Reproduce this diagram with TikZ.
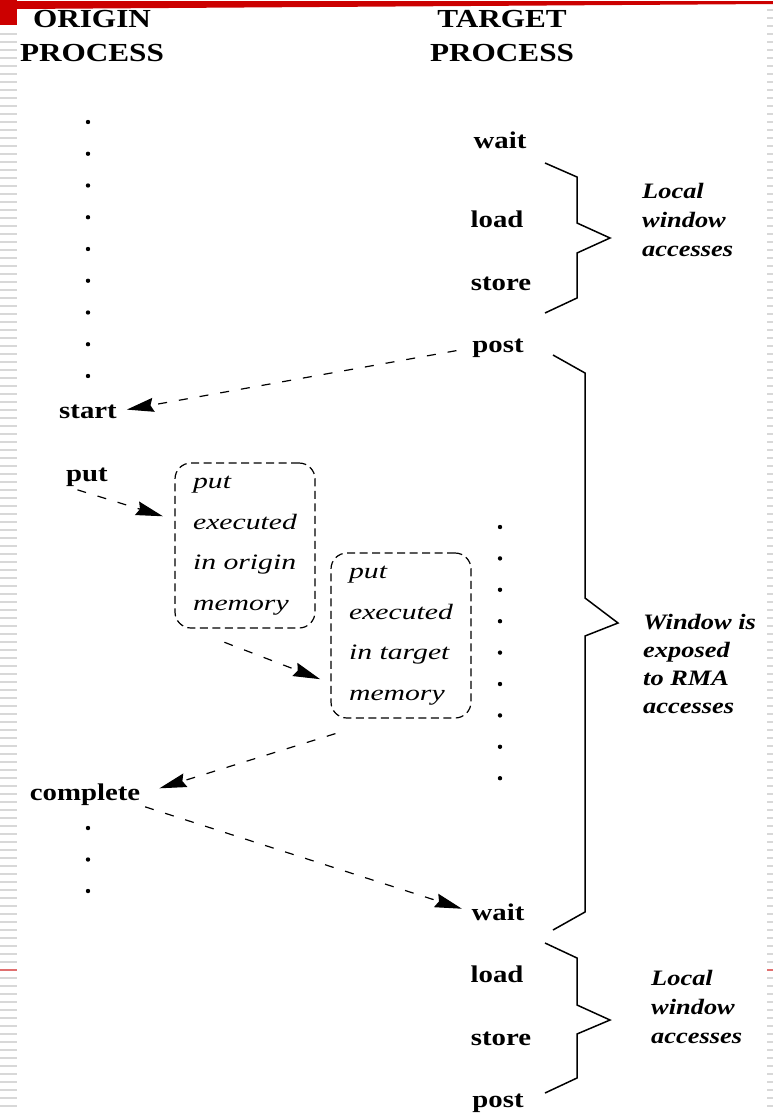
\documentclass[tikz,border=0pt]{standalone}
\usepackage{fontspec}
\setmainfont{Liberation Serif}
\newfontfamily\labelfont{Liberation Serif}[FakeStretch=1.2]
\newfontfamily\notefont{Liberation Serif}[FakeStretch=1.35]
\usetikzlibrary{arrows.meta}

\definecolor{slidered}{RGB}{204,0,0}
\definecolor{ruleline}{RGB}{216,216,216}
\definecolor{rulered}{RGB}{224,112,112}

\begin{document}
\begin{tikzpicture}[x=1pt,y=-1pt,
  lbl/.style={font=\labelfont\bfseries\fontsize{24}{28}\selectfont,inner sep=0pt,anchor=base},
  head/.style={font=\labelfont\bfseries\fontsize{26}{33.5}\selectfont,inner sep=0pt,align=center},
  note/.style={font=\labelfont\bfseries\itshape\fontsize{22}{29}\selectfont,inner sep=0pt,align=left,anchor=west},
  membox/.style={draw,dash pattern=on 8pt off 4.5pt,line width=1.2pt,rounded corners=16pt,
    minimum width=140pt,minimum height=165pt,inner sep=0pt,align=left,
    font=\notefont\itshape\fontsize{22}{40.5}\selectfont},
  sync/.style={dash pattern=on 9pt off 12pt,line width=1.2pt,-{Stealth[length=27pt,width=14pt,inset=3pt]}},
  brace/.style={line width=1.5pt,line join=miter}
]

\useasboundingbox (0,0) rectangle (773,1114);

\foreach \y in {34,42,...,1110}
  \fill[ruleline] (0,\y-1) rectangle (17,\y+1);
\foreach \y in {10,18,...,1110}
  \fill[ruleline] (767,\y-1) rectangle (773,\y+1);
\fill[rulered] (0,969) rectangle (17,971);
\fill[rulered] (767,969) rectangle (773,971);
\fill[slidered] (0,0) rectangle (17,25);
\fill[slidered] (17,1) -- (773,1) -- (773,4) -- (17,9) -- cycle;

\node[head] (orighead) at (92,36) {ORIGIN\\PROCESS};
\node[head] (targhead) at (502,36) {TARGET\\PROCESS};

\node[lbl] (wait1) at (500,148) {wait};
\node[lbl] (load1) at (497,227) {load};
\node[lbl] (store1) at (501,290) {store};
\node[lbl] (post1) at (498,352) {post};
\node[lbl] (wait2) at (498,920) {wait};
\node[lbl] (load2) at (497,982) {load};
\node[lbl] (store2) at (501,1045) {store};
\node[lbl] (post2) at (498,1107) {post};

\node[lbl] (start) at (88,418) {start};
\node[lbl] (put) at (87,481) {put};
\node[lbl] (complete) at (85,800) {complete};

\foreach \i in {0,...,8}
  \fill (88,122+31.75*\i) circle (2.2);
\foreach \i in {0,...,8}
  \fill (500,527+31.4*\i) circle (2.2);
\foreach \i in {0,1,2}
  \fill (88,828+31.5*\i) circle (2.2);

\node[membox] (origmem) at (245,545.5) {put\\executed\\in origin\\memory};
\node[membox] (targmem) at (401,635.5) {put\\executed\\in target\\memory};

\draw[brace] (545,163) -- (577,177) -- (577,223) -- (610,238) -- (577,253) -- (577,298) -- (545,313);
\draw[brace] (553,355) -- (585,373) -- (585,598) -- (618,623) -- (585,636) -- (585,912) -- (553,930);
\draw[brace] (545,943) -- (577,958) -- (577,1005) -- (610,1020) -- (577,1034) -- (577,1078) -- (545,1093);

\node[note] (localtop) at (642,219.5) {Local\\window\\accesses};
\node[note,font=\labelfont\bfseries\itshape\fontsize{22}{28}\selectfont] (exposed) at (643,664) {Window is\\exposed\\to RMA\\accesses};
\node[note] (localbot) at (651,1007) {Local\\window\\accesses};

\draw[sync,shorten <=16pt,shorten >=10pt] (post1.west) -- (start.east);
\draw[sync,shorten <=12pt,shorten >=12pt] (put.south west) -- (origmem.160);
\draw[sync,shorten <=38pt,shorten >=11pt] (origmem.236) -- (targmem.214);
\draw[sync,shorten >=20pt] ([shift={(5,15)}]targmem.south west) -- (complete.east);
\draw[sync,shorten <=5pt,shorten >=10pt] (complete.south east) -- (wait2.west);

\end{tikzpicture}
\end{document}
